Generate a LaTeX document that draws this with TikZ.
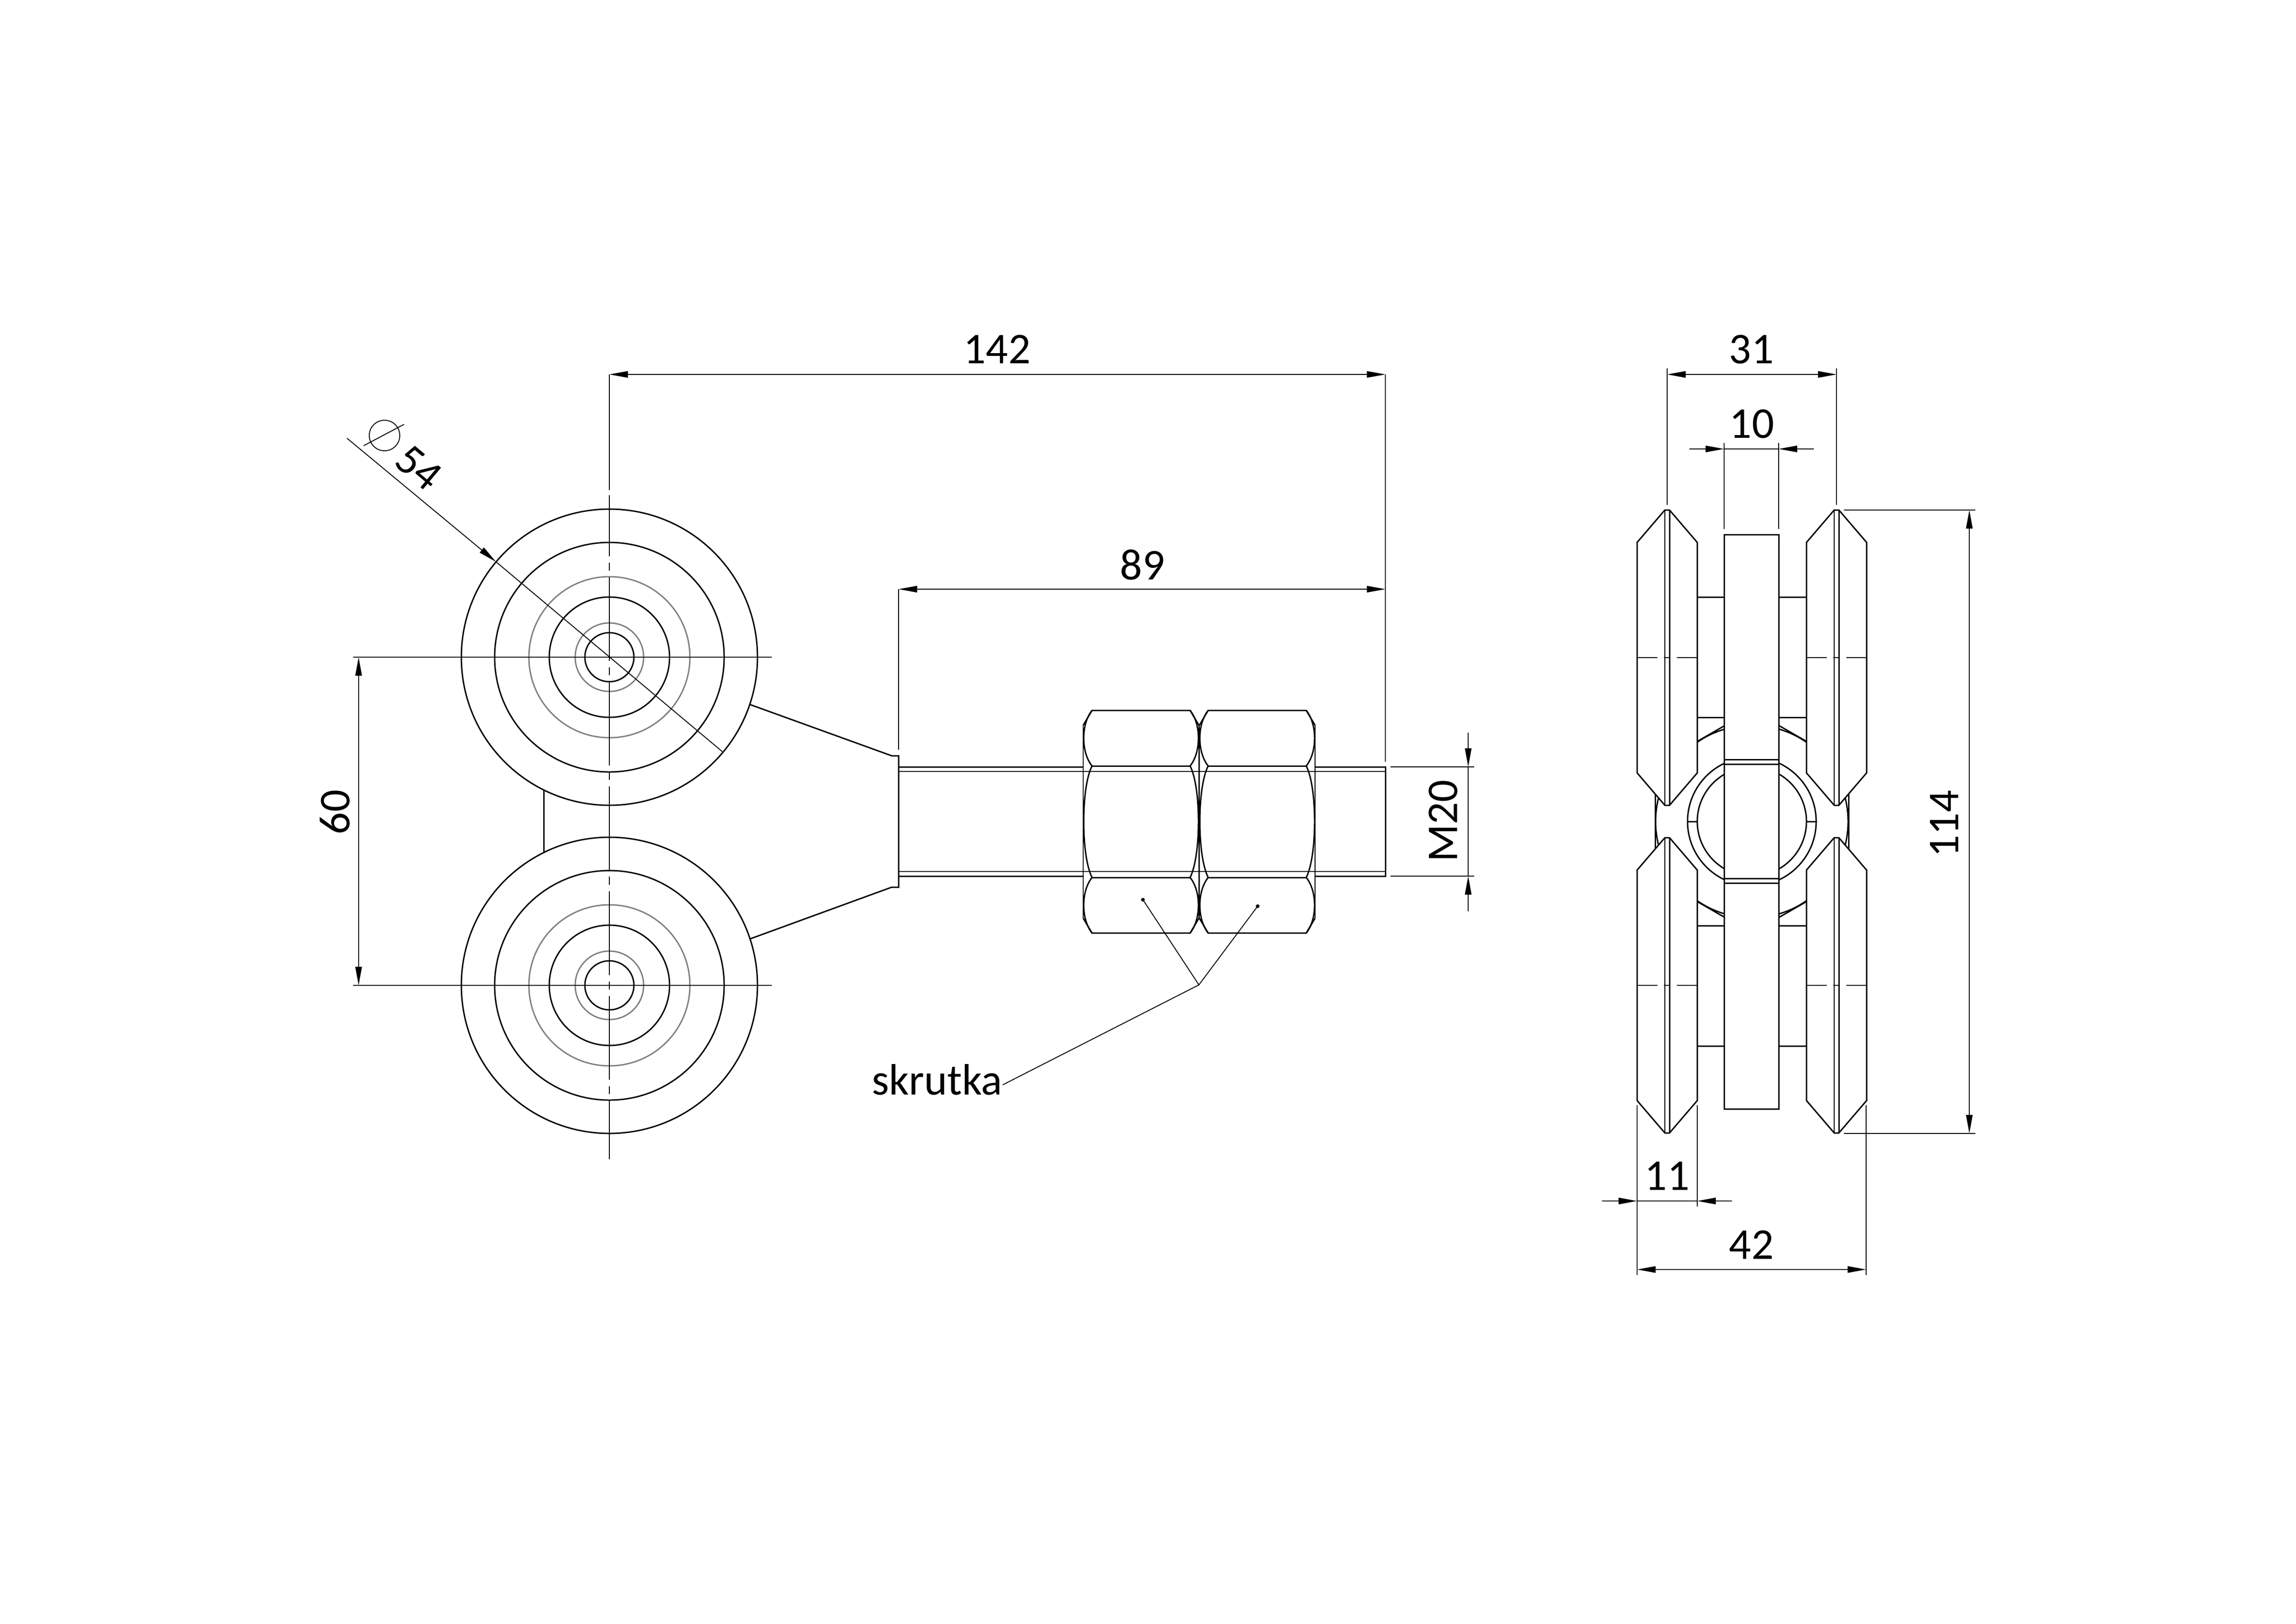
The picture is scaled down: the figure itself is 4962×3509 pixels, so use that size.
\documentclass[tikz,border=0pt]{standalone}
\usepackage{fontspec}
\setmainfont{Carlito}
\usetikzlibrary{arrows.meta}
\def\drawpart{\draw[line width=.85pt]}
\def\drawfine{\draw[line width=.55pt]}
\tikzset{
  ringgrey/.style={line width=.85pt,color=black!50},
  dimtip/.style={line width=.55pt,-{Triangle[length=4mm,width=1.4mm]}},
  dimboth/.style={line width=.55pt,{Triangle[length=4mm,width=1.4mm]}-{Triangle[length=4mm,width=1.4mm]}},
  dimtext/.style={font=\fontsize{27}{30}\selectfont,inner sep=0pt},
  axisline/.style={line width=.55pt,dash pattern=on 18.1mm off 1.4mm on 1.7mm off 1.4mm,dash phase=4.9mm},
  sideaxis/.style={line width=.55pt,dash pattern=on 4.4mm off 1.4mm on 1.4mm off 1.4mm}
}
\begin{document}
\begin{tikzpicture}[x=.01cm,y=-.01cm]
\useasboundingbox (0,-2) rectangle (4962,3507);
% front view, wheels
\foreach \wheely in {1418,2127} {
  \foreach \rad in {320,248,130,53} \drawpart (1317,\wheely) circle (\rad);
  \foreach \rad in {174,74} \draw[ringgrey] (1317,\wheely) circle (\rad);
  \drawfine (763,\wheely) -- (1668,\wheely);
}
\coordinate (axistop) at (1317,807);
\coordinate (axisstop) at (1317,1057);
\drawfine (axistop) -- (axisstop);
\draw[axisline] (1317,1068) -- (1317,2503);
% body
\drawpart (1175,1705) -- (1175,1840);
\drawpart (1620,1520) -- (1927,1631) -- (1942,1631) -- (1942,1915) -- (1927,1915) -- (1620,2027);
% bolt
\drawpart (1942,1655) -- (2341,1655);
\drawpart (1942,1891) -- (2341,1891);
\drawpart (2841,1655) -- (2994,1655) -- (2994,1891) -- (2841,1891);
\drawfine (1942,1665) -- (2994,1665);
\drawfine (1942,1881) -- (2994,1881);
% nuts
\foreach \nutx in {2341,2592} {
  \drawfine (\nutx,1565) -- (\nutx,1982);
  \drawfine ({\nutx+250},1565) -- ({\nutx+250},1982);
  \drawpart (\nutx,1565) -- ({\nutx+19},1533) -- ({\nutx+231},1533) -- ({\nutx+250},1565);
  \drawpart (\nutx,1982) -- ({\nutx+19},2014) -- ({\nutx+231},2014) -- ({\nutx+250},1982);
  \drawpart ({\nutx+19},1653) -- ({\nutx+231},1653);
  \drawpart ({\nutx+19},1894) -- ({\nutx+231},1894);
  \foreach \edge/\bow in {19/-24,231/24} {
    \drawpart ({\nutx+\edge},1533) .. controls ({\nutx+\edge+\bow},1563) and ({\nutx+\edge+\bow},1623) .. ({\nutx+\edge},1653);
    \drawpart ({\nutx+\edge},1653) .. controls ({\nutx+\edge+\bow},1700) and ({\nutx+\edge+\bow},1846) .. ({\nutx+\edge},1894);
    \drawpart ({\nutx+\edge},1894) .. controls ({\nutx+\edge+\bow},1924) and ({\nutx+\edge+\bow},1984) .. ({\nutx+\edge},2014);
  }
}
% leader
\coordinate (dota) at (2470,1942);
\coordinate (dotb) at (2718,1956);
\coordinate (knee) at (2591,2126);
\coordinate (leadend) at (2167,2342);
\fill (dota) circle (4);
\fill (dotb) circle (4);
\drawfine (dota) -- (knee) -- (dotb);
\drawfine (knee) -- (leadend);
\node[dimtext,anchor=base east] (skrutka) at (2167,2363) {skrutka};
% front view, dimensions
\coordinate (rightext) at (2994,807);
\drawfine (rightext) -- (2994,1644);
\draw[dimboth] (axistop) -- (rightext);
\node[dimtext] (dimlong) at (2155,753) {142};
\coordinate (bodyext) at (1942,1271);
\drawfine (bodyext) -- (1942,1618);
\draw[dimboth] (bodyext) -- (2994,1271);
\node[dimtext] (dimbolt) at (2469,1218) {89};
\draw[dimboth] (775,1418) -- (775,2127);
\node[dimtext,rotate=90] (dimpitch) at (724,1753) {60};
\drawfine (3005,1655) -- (3186,1655);
\drawfine (3005,1891) -- (3186,1891);
\draw[dimtip] (3173,1581) -- (3173,1655);
\draw[dimtip] (3173,1967) -- (3173,1891);
\drawfine (3173,1655) -- (3173,1891);
\node[dimtext,rotate=90] (dimthread) at (3119,1772) {M20};
% diameter
\coordinate (diastart) at (750,945);
\coordinate (diatip) at (1072,1212);
\coordinate (diaend) at (1561,1622);
\draw[dimtip] (diastart) -- (diatip);
\drawfine (diatip) -- (diaend);
\drawfine (831,939) circle (33);
\drawfine (786,961) -- (873,915);
\node[dimtext,rotate=-40] (dimdia) at (905,1008) {54};
% side view, nut behind
\drawpart (3668,1600) -- (3786,1532) -- (3904,1600);
\drawpart (3668,1946) -- (3786,2014) -- (3904,1946);
\drawpart (3577,1652) -- (3577,1894);
\drawpart (3995,1652) -- (3995,1894);
\drawpart (3786,1773) circle (208);
\foreach \huby in {1288,1548,1998,2258} {
  \drawpart (3668,\huby) -- (3726,\huby);
  \drawpart (3844,\huby) -- (3904,\huby);
}
\drawpart (3786,1773) circle (139);
\drawpart (3786,1773) circle (118);
\drawpart (3647,1773) -- (3668,1773);
\drawpart (3904,1773) -- (3925,1773);
% plate
\drawpart[fill=white] (3726,1153) rectangle (3844,2394);
\foreach \platey in {1639,1649,1896,1906} \drawpart (3726,\platey) -- (3844,\platey);
% side wheels
\foreach \wheelx/\wheely in {3603/1419,3969/1419,3603/2127,3969/2127} {
  \drawpart[fill=white] ({\wheelx-5},{\wheely-319}) -- ({\wheelx+5},{\wheely-319})
    -- ({\wheelx+65},{\wheely-249}) -- ({\wheelx+65},{\wheely+249})
    -- ({\wheelx+5},{\wheely+319}) -- ({\wheelx-5},{\wheely+319})
    -- ({\wheelx-65},{\wheely+249}) -- ({\wheelx-65},{\wheely-249}) -- cycle;
  \drawfine ({\wheelx-5},{\wheely-319}) -- ({\wheelx-5},{\wheely+319});
  \drawpart ({\wheelx+5},{\wheely-319}) -- ({\wheelx+5},{\wheely+319});
  \draw[sideaxis] ({\wheelx-65},\wheely) -- ({\wheelx+65},\wheely);
}
% side view, dimensions
\coordinate (widthl) at (3603,807);
\coordinate (widthr) at (3969,807);
\drawfine (3603,794) -- (3603,1089);
\drawfine (3969,794) -- (3969,1089);
\draw[dimboth] (widthl) -- (widthr);
\node[dimtext] (dimwidth) at (3785,753) {31};
\drawfine (3726,955) -- (3726,1141);
\drawfine (3844,955) -- (3844,1141);
\draw[dimtip] (3651,968) -- (3726,968);
\draw[dimtip] (3920,968) -- (3844,968);
\drawfine (3726,968) -- (3844,968);
\node[dimtext] (dimplate) at (3786,914) {10};
\drawfine (3985,1100) -- (4269,1100);
\drawfine (3985,2447) -- (4269,2447);
\draw[dimboth] (4256,1100) -- (4256,2447);
\node[dimtext,rotate=90] (dimheight) at (4202,1778) {114};
\drawfine (3538,2386) -- (3538,2753);
\drawfine (3668,2386) -- (3668,2605);
\drawfine (4033,2386) -- (4033,2753);
\draw[dimtip] (3462,2593) -- (3538,2593);
\draw[dimtip] (3743,2593) -- (3668,2593);
\drawfine (3538,2593) -- (3668,2593);
\node[dimtext] (dimwheel) at (3603,2539) {11};
\draw[dimboth] (3538,2741) -- (4033,2741);
\node[dimtext] (dimtotal) at (3785,2688) {42};
\end{tikzpicture}
\end{document}
